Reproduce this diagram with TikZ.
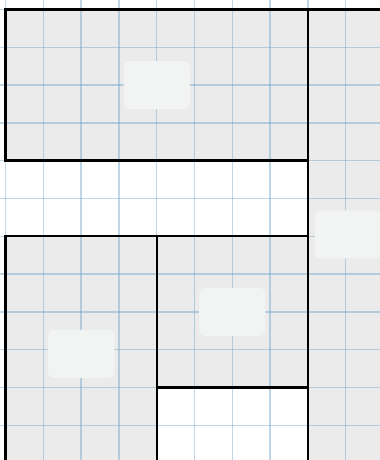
\documentclass[tikz,border=0pt]{standalone}
\usepackage{tikz}
\usetikzlibrary{positioning}
\definecolor{tilegray}{HTML}{EBEBEB}
\definecolor{badgefill}{HTML}{F2F3F3}
\definecolor{gridblue}{HTML}{6FA5C8}
\tikzset{
    tile/.style = {fill=tilegray, draw=none},
    border/.style = {draw=black, line width=1.8pt, line cap=rect},
    gridline/.style = {draw=gridblue, line width=1.1pt, opacity=0.45},
    badge/.style = {rectangle, rounded corners=0.16cm, fill=badgefill, draw=none, minimum width=1.75cm, minimum height=1.27cm, inner sep=0pt}
}

\begin{document}
\begin{tikzpicture}[y=-1cm]
        \useasboundingbox (-0.1455,-0.251) rectangle (9.907,11.918);

        % Tiles (gray areas)
        \fill [tile] (0,0) rectangle (8,4);
        \fill [tile] (8,0) rectangle (10.5,12.5);
        \fill [tile] (0,6) rectangle (4,12.5);
        \fill [tile] (4,6) rectangle (8,10);

        % Background grid (1cm)
        \foreach \x in {0,...,9}
            \draw [gridline] (\x,-0.5) -- (\x,12.5);
        \foreach \y in {0,...,11}
            \draw [gridline] (-0.5,\y) -- (10.5,\y);

        % Tile borders
        \draw [border] (0,4) -- (0,0) -- (10.5,0);
        \draw [border] (0,4) -- (8,4);
        \draw [border] (8,0) -- (8,12.5);
        \draw [border] (0,12.5) -- (0,6) -- (8,6);
        \draw [border] (4,6) -- (4,12.5);
        \draw [border] (4,10) -- (8,10);

        % Tile badges
        \node (topbadge) [badge] at (4,2) {};
        \node (rightbadge) [badge] at (9.06,5.95) {};
        \node (midbadge) [badge] at (6,8) {};
        \node (leftbadge) [badge] at (2,9.11) {};
    \end{tikzpicture}
\end{document}
